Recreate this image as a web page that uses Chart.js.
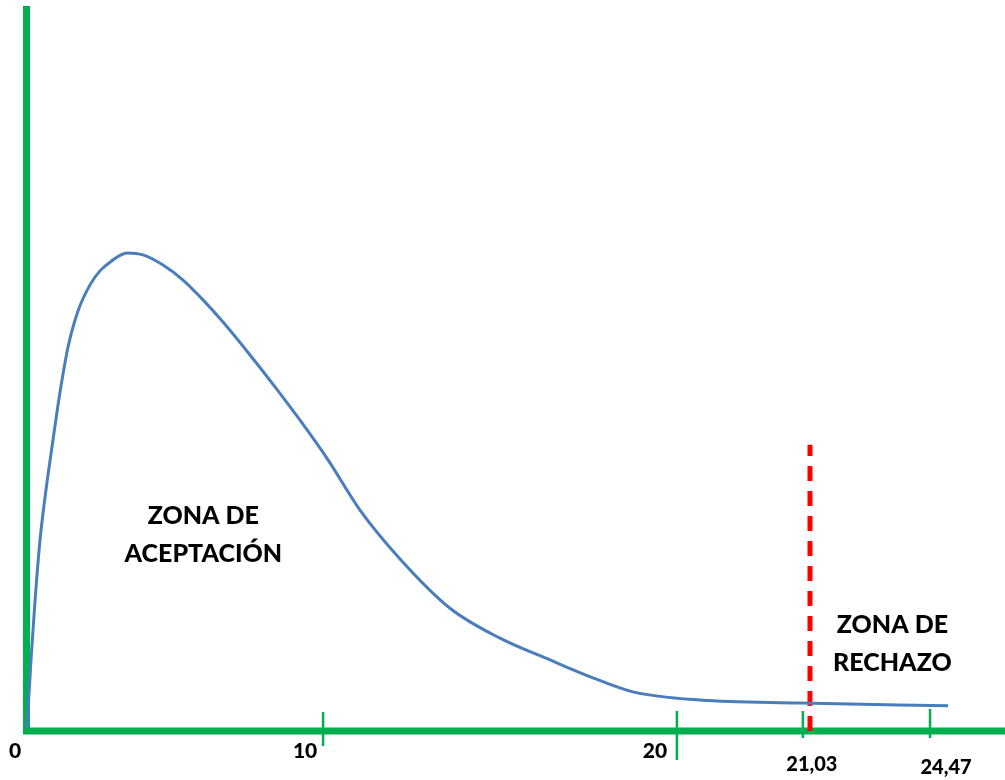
<!DOCTYPE html>
<html>
<head>
<meta charset="utf-8">
<script src="https://cdn.jsdelivr.net/npm/chart.js@4.4.1/dist/chart.umd.min.js"></script>
<style>
  html, body { margin: 0; padding: 0; background: #ffffff; }
  #wrap { width: 1005px; height: 780px; }
</style>
</head>
<body>
<div id="wrap"><canvas id="c" width="1005" height="780"></canvas></div>
<script>
// ---- data (axis units) ----
const curveX = [0, 0.135, 0.270, 0.439, 0.641, 0.844, 1.012, 1.181, 1.383, 1.721, 2.126, 2.463, 2.801, 3.374, 3.914, 4.589, 5.264, 5.939, 6.614, 7.525, 8.368, 9.212, 10.157, 11.236, 12.586, 14.273, 15.960, 17.647, 19.098, 20.448, 22.709, 26.083, 31.077];
const curveY = [0.0006, 0.0147, 0.0269, 0.0395, 0.0499, 0.0588, 0.0660, 0.0726, 0.0794, 0.0869, 0.0923, 0.0952, 0.0970, 0.0989, 0.0985, 0.0964, 0.0933, 0.0892, 0.0846, 0.0778, 0.0712, 0.0643, 0.0561, 0.0457, 0.0356, 0.0254, 0.0192, 0.0147, 0.0110, 0.0081, 0.0064, 0.0058, 0.0052];
const tickPositions = [0, 9.99, 21.93, 26.18, 30.47];
const tickLabels = ['0', '10', '20', '21,03', '24,47'];
const criticalX = [26.42, 26.42];
const criticalY = [0, 0.0592];
const zoneLabels = [['ZONA DE', 'ACEPTACIÓN'], ['ZONA DE', 'RECHAZO']];
const zoneAnchors = [[5.95, 0.0405], [29.2, 0.0180]];

// ---- styles ----
const GREEN = '#00B050';
const tickStyle = [
  null,
  { up: 19, down: 15, lx: -18, ly: 20, size: 21 },
  { up: 20, down: 29, lx: -22, ly: 20, size: 21 },
  { up: 20, down: 7,  lx: 9,   ly: 34, size: 20 },
  { up: 22, down: 7,  lx: 16,  ly: 37, size: 20 }
];
const zeroLabelStyle = { lx: -12, ly: 20, size: 21 };

const pts = curveX.map((x, i) => ({ x: x, y: curveY[i] }));
const crit = criticalX.map((x, i) => ({ x: x, y: criticalY[i] }));

const FONT = 'Lato, "Open Sans", sans-serif';

const decor = {
  id: 'decor',
  beforeDatasetsDraw(chart) {
    const { ctx, scales: { x, y } } = chart;
    const x0 = x.getPixelForValue(0);
    const y0 = y.getPixelForValue(0);
    ctx.save();
    ctx.strokeStyle = GREEN;
    ctx.lineCap = 'butt';
    ctx.lineWidth = 7;
    ctx.beginPath();
    ctx.moveTo(x0 - 0.5, y.getPixelForValue(y.max));
    ctx.lineTo(x0 - 0.5, y0 + 3);
    ctx.stroke();
    ctx.beginPath();
    ctx.moveTo(x0 - 4, y0);
    ctx.lineTo(x.getPixelForValue(x.max), y0);
    ctx.stroke();
    ctx.lineWidth = 2.5;
    tickPositions.forEach((v, i) => {
      const st = tickStyle[i];
      if (!st) return;
      const px = x.getPixelForValue(v);
      ctx.beginPath();
      ctx.moveTo(px, y0 - st.up);
      ctx.lineTo(px, y0 + st.down);
      ctx.stroke();
    });
    ctx.restore();
  },
  afterDraw(chart) {
    const { ctx, scales: { x, y } } = chart;
    const y0 = y.getPixelForValue(0);
    ctx.save();
    ctx.fillStyle = '#000000';
    ctx.textAlign = 'center';
    ctx.textBaseline = 'middle';
    tickPositions.forEach((v, i) => {
      const st = tickStyle[i] || zeroLabelStyle;
      ctx.font = '900 ' + st.size + 'px ' + FONT;
      ctx.fillText(tickLabels[i], x.getPixelForValue(v) + st.lx, y0 + st.ly);
    });
    ctx.font = '900 25px ' + FONT;
    zoneLabels.forEach((lines, i) => {
      const cx = x.getPixelForValue(zoneAnchors[i][0]);
      const cy = y.getPixelForValue(zoneAnchors[i][1]);
      lines.forEach((t, j) => {
        ctx.fillText(t, cx, cy + (j - 0.5) * 38);
      });
    });
    ctx.restore();
  }
};

new Chart(document.getElementById('c'), {
  type: 'scatter',
  data: {
    datasets: [
      {
        data: pts,
        showLine: true,
        borderColor: '#4A7EBB',
        borderWidth: 3,
        pointRadius: 0,
        cubicInterpolationMode: 'monotone',
        fill: false,
        clip: false
      },
      {
        data: crit,
        showLine: true,
        borderColor: '#FF0000',
        borderWidth: 5,
        borderDash: [15, 10],
        pointRadius: 0,
        clip: false
      }
    ]
  },
  options: {
    responsive: false,
    animation: false,
    events: [],
    layout: { padding: { left: 27, right: 0, top: 6, bottom: 49 } },
    plugins: { legend: { display: false }, tooltip: { enabled: false } },
    scales: {
      x: { type: 'linear', min: 0, max: 33, display: false },
      y: { type: 'linear', min: 0, max: 0.15, display: false }
    }
  },
  plugins: [decor]
});
</script>
</body>
</html>
